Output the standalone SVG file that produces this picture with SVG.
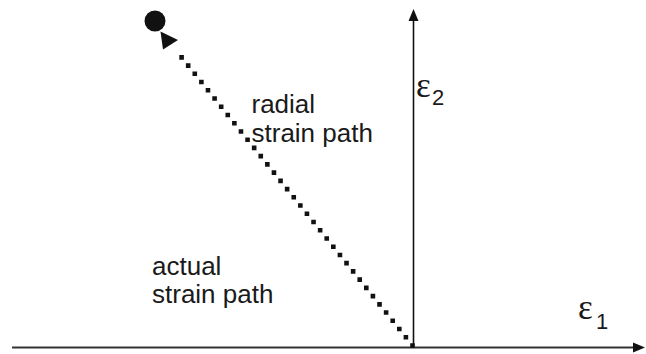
<svg xmlns="http://www.w3.org/2000/svg" width="646" height="354" viewBox="0 0 646 354">
<style>
.lbl{font-family:"Liberation Sans",Arial,sans-serif;font-size:26px;fill:#1a1a1a}
.eps{font-family:"Liberation Serif","Times New Roman",serif;font-size:35px;fill:#1a1a1a}
.sub{font-family:"Liberation Sans",Arial,sans-serif;font-size:22px;fill:#1a1a1a}
</style>
<rect width="646" height="354" fill="#ffffff"/>
<g id="axes">
<line x1="12" y1="347.5" x2="634" y2="347.5" stroke="#333333" stroke-width="2"/>
<polygon points="645,347.5 633,342.5 633,352.5" fill="#111111"/>
<line x1="413.5" y1="347" x2="413.5" y2="20" stroke="#111111" stroke-width="1.6"/>
<polygon points="413.5,9 408.5,21 418.5,21" fill="#111111"/>
</g>
<g id="connectors">
<line x1="412.5" y1="345.5" x2="175.7" y2="50" stroke="#111111" stroke-width="4.6" stroke-linecap="square" stroke-dasharray="0 10.55"/>
<polygon points="160.5,31.5 163,49.5 178,40" fill="#111111"/>
</g>
<g id="point">
<circle cx="155" cy="21" r="10.5" fill="#111111"/>
</g>
<g id="label-radial">
<text class="lbl" x="251.5" y="113">radial</text>
<text class="lbl" x="251.5" y="141.5">strain path</text>
</g>
<g id="label-actual">
<text class="lbl" x="152" y="275">actual</text>
<text class="lbl" x="152" y="303">strain path</text>
</g>
<g id="label-e2">
<text class="eps" x="416" y="97">ε</text>
<text class="sub" x="432" y="105">2</text>
</g>
<g id="label-e1">
<text class="eps" x="578" y="319">ε</text>
<text class="sub" x="596" y="329">1</text>
</g>
</svg>
